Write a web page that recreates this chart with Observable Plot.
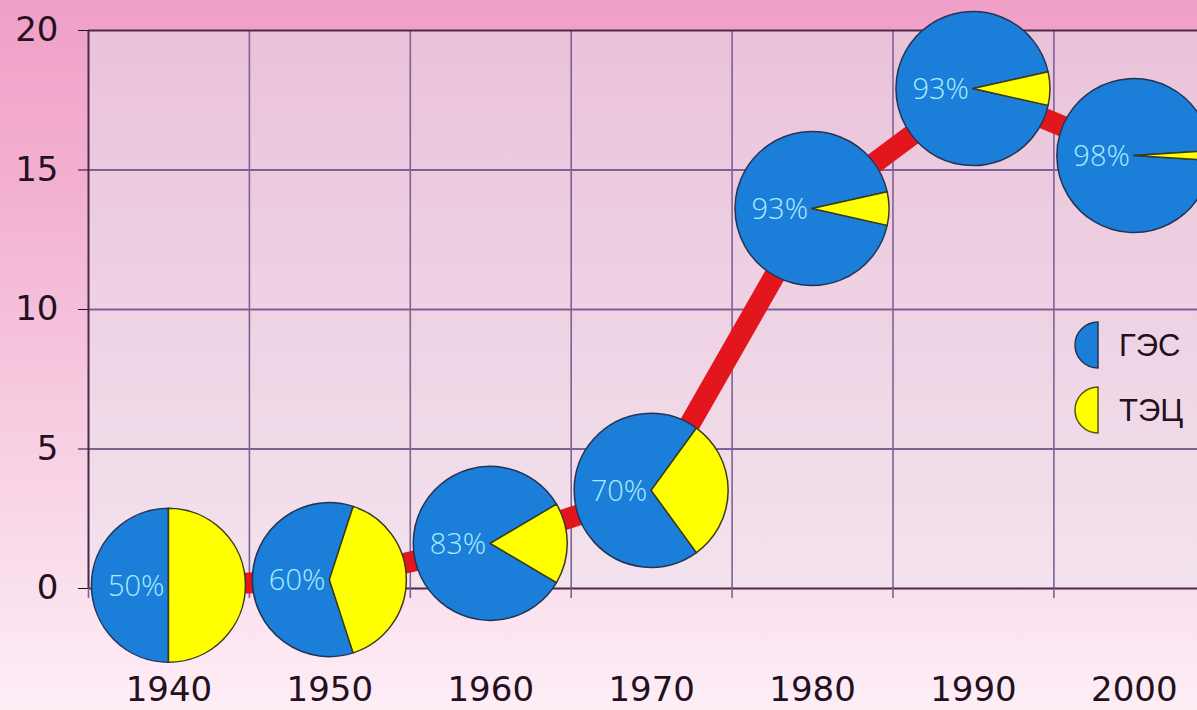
<!DOCTYPE html>
<html>
<head>
<meta charset="utf-8">
<script src="https://cdn.jsdelivr.net/npm/d3@7"></script>
<script src="https://cdn.jsdelivr.net/npm/@observablehq/plot@0.6"></script>
<style>
  html, body { margin: 0; padding: 0; overflow: hidden; width: 1197px; height: 710px; }
  svg { overflow: hidden; }
</style>
</head>
<body>
<script>
// ---- data ----
const years = [1940, 1950, 1960, 1970, 1980, 1990, 2000];
const output = [0.1, 0.3, 1.6, 3.5, 13.6, 17.9, 15.5];      // production
const hydroShare = [50, 60, 83, 70, 93, 93, 98];            // % ГЭС
const gridYears = [1935, 1945, 1955, 1965, 1975, 1985, 1995];
const yTicks = [0, 5, 10, 15, 20];
const legendLabels = ["ГЭС", "ТЭЦ"];

const data = years.map((year, i) => ({year, value: output[i], hydro: hydroShare[i]}));

// ---- styles ----
const W = 1197, H = 710;
const mL = 88, mT = 30, mB = 122, mR = 0;
const pxPerYear = 16.09;
const gridColor = "#7f6195";
const borderColor = "#4a2a4c";
const textColor = "#24101e";
const blue = "#1b7ed8";
const yellow = "#ffff00";
const red = "#e2161c";
const pieR = 77;

const defsMark = () => {
  const g = document.createElementNS("http://www.w3.org/2000/svg", "g");
  g.innerHTML = `<defs><linearGradient id="plotBg" x1="0" y1="0" x2="0" y2="1">
    <stop offset="0" stop-color="#eac2da"/><stop offset="0.5" stop-color="#eed2e3"/><stop offset="1" stop-color="#f3e3ee"/>
  </linearGradient></defs>`;
  return g;
};

const pieMark = (index, scales) => {
  const g = d3.create("svg:g");
  const arc = d3.arc().innerRadius(0).outerRadius(pieR);
  for (const d of data) {
    const cx = scales.x(d.year), cy = scales.y(d.value);
    const ya = 2 * Math.PI * (100 - d.hydro) / 100;
    const a0 = Math.PI / 2 - ya / 2, a1 = Math.PI / 2 + ya / 2;
    const p = g.append("g").attr("transform", `translate(${cx},${cy})`);
    p.append("path").attr("d", arc({startAngle: a1, endAngle: a0 + 2 * Math.PI}))
      .attr("fill", blue).attr("stroke", "#243454").attr("stroke-width", 1.5).attr("stroke-linejoin", "round");
    p.append("path").attr("d", arc({startAngle: a0, endAngle: a1}))
      .attr("fill", yellow).attr("stroke", "#3d3a1c").attr("stroke-width", 1.5).attr("stroke-linejoin", "round");
    p.append("text").attr("x", -4).attr("y", 0).attr("dy", "0.36em")
      .attr("text-anchor", "end").attr("fill", "#a8ecff")
      .attr("font-family", "'Open Sans', 'Liberation Sans', sans-serif")
      .attr("font-weight", 300).attr("font-size", 29)
      .text(`${d.hydro}%`);
  }
  return g.node();
};

const legendMark = (index, scales, values, dims) => {
  const g = d3.create("svg:g");
  const half = d3.arc().innerRadius(0).outerRadius(23).startAngle(Math.PI).endAngle(2 * Math.PI);
  const x0 = dims.width - 99;
  const fills = [blue, yellow];
  const strokes = ["#243454", "#5a5418"];
  legendLabels.forEach((lab, i) => {
    const cy = 345 + i * 65;
    g.append("path").attr("transform", `translate(${x0},${cy})`).attr("d", half())
      .attr("fill", fills[i]).attr("stroke", strokes[i]).attr("stroke-width", 1.5);
    g.append("text").attr("x", x0 + 21).attr("y", cy).attr("dy", "0.36em")
      .attr("text-anchor", "start")
      .attr("fill", textColor).attr("font-family", "'Liberation Sans', Arial, sans-serif")
      .attr("font-size", 31).text(lab);
  });
  return g.node();
};

const chart = Plot.plot({
  width: W, height: H,
  marginLeft: mL, marginRight: mR, marginTop: mT, marginBottom: mB,
  x: {domain: [gridYears[0], gridYears[0] + (W - mL - mR) / pxPerYear], label: null},
  y: {domain: [0, 20], label: null},
  style: {
    background: "linear-gradient(to bottom, #f09fc6 0%, #f3b3d2 30%, #f7cde1 60%, #fdeef6 100%)",
    fontFamily: "'DejaVu Sans', sans-serif",
    overflow: "hidden"
  },
  marks: [
    defsMark,
    Plot.frame({fill: "url(#plotBg)", stroke: "none"}),
    Plot.ruleY([5, 10, 15], {stroke: gridColor, strokeWidth: 2}),
    Plot.ruleX(gridYears.slice(1), {stroke: gridColor, strokeWidth: 1.6}),
    Plot.ruleY([0, 20], {stroke: borderColor, strokeWidth: 2}),
    Plot.ruleX([gridYears[0]], {stroke: borderColor, strokeWidth: 2}),
    Plot.axisY(yTicks, {label: null, tickSize: 10, tickPadding: 20, fontSize: 34, color: textColor, tickFormat: d => String(d)}),
    Plot.axisX(gridYears, {label: null, tickSize: 10, tickFormat: () => "", stroke: gridColor, strokeWidth: 1.6}),
    Plot.axisX(years, {label: null, tickSize: 0, tickPadding: 88, fontSize: 34, color: textColor, tickFormat: d => String(d)}),
    Plot.line(data, {x: "year", y: "value", stroke: red, strokeWidth: 21, curve: "linear"}),
    pieMark,
    legendMark
  ]
});
document.body.appendChild(chart);
</script>
</body>
</html>
